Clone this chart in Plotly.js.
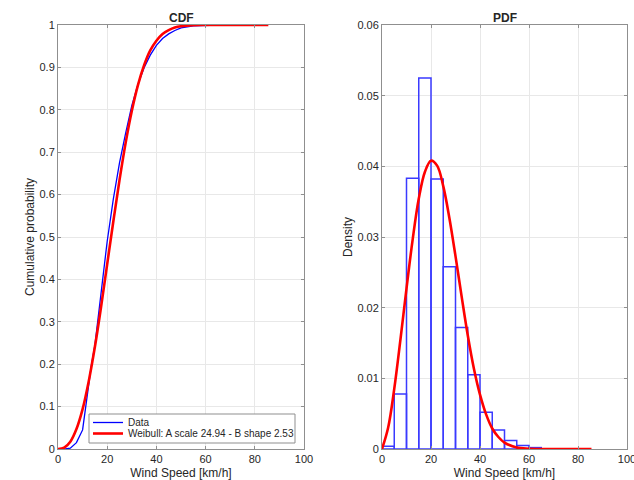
<!DOCTYPE html>
<html>
<head>
<meta charset="utf-8">
<script src="https://cdn.plot.ly/plotly-3.0.1.min.js"></script>
<style>html,body{margin:0;padding:0;background:#fff;}#chart{width:634px;height:480px;}</style>
</head>
<body>
<div id="chart"></div>
<script>
const dataX   = [0, 3, 5, 7.5, 10, 11, 12.5, 13.5, 15, 17.5, 20, 22.5, 25, 27.5, 30, 32.5, 35, 37.5, 40, 42.5, 45, 47.5, 50, 55, 60, 65, 85];
const dataCdf = [0, 0, 0.002, 0.015, 0.045, 0.09, 0.155, 0.195, 0.245, 0.37, 0.49, 0.59, 0.675, 0.745, 0.81, 0.86, 0.899, 0.929, 0.952, 0.968, 0.979, 0.987, 0.993, 0.998, 0.9995, 1, 1];

// Weibull fit curves
const fitX       = [0, 2.5, 5, 7.5, 10, 12.5, 15, 17.5, 20, 22.5, 25, 27.5, 30, 32.5, 35, 37.5, 40, 42.5, 45, 47.5, 50, 55, 60, 70, 85.5];
const weibullCdf = [0, 0.003, 0.017, 0.047, 0.094, 0.160, 0.241, 0.335, 0.436, 0.537, 0.634, 0.722, 0.797, 0.858, 0.905, 0.940, 0.963, 0.979, 0.988, 0.994, 0.997, 0.9994, 0.9999, 1, 1];
const weibullPdf = [0, 0.0030, 0.0085, 0.0154, 0.0227, 0.0296, 0.0354, 0.0392, 0.0408, 0.0401, 0.0372, 0.0327, 0.0273, 0.0216, 0.0161, 0.0114, 0.0077, 0.0049, 0.0029, 0.0017, 0.0009, 0.0002, 0.00004, 0, 0];

// Histogram (density), bin width 5 km/h
const binCenters = [2.5, 7.5, 12.5, 17.5, 22.5, 27.5, 32.5, 37.5, 42.5, 47.5, 52.5, 57.5, 62.5];
const density    = [0.0004, 0.0078, 0.0383, 0.0525, 0.0382, 0.0258, 0.0172, 0.0105, 0.0052, 0.0027, 0.0012, 0.0005, 0.0002];

const legendLabels = ['Data', 'Weibull: A scale 24.94 - B shape 2.53'];
const xTicks = [0, 20, 40, 60, 80, 100];
const cdfTicks = [0, 0.1, 0.2, 0.3, 0.4, 0.5, 0.6, 0.7, 0.8, 0.9, 1];
const cdfTickText = ['0', '0.1', '0.2', '0.3', '0.4', '0.5', '0.6', '0.7', '0.8', '0.9', '1'];
const pdfTicks = [0, 0.01, 0.02, 0.03, 0.04, 0.05, 0.06];
const pdfTickText = ['0', '0.01', '0.02', '0.03', '0.04', '0.05', '0.06'];

const W = 634, H = 480, MT = 25, MB = 31;
const PH = H - MT - MB;
const px = v => v / W;              // pixel -> paper x
const py = v => (H - MB - v) / PH;  // pixel -> paper y
const FONT = 'Liberation Sans, Arial, Helvetica, sans-serif';
const TXT = '#262626';
const AX = '#8f8f8f';
const GRID = '#e8e8e8';
const BLUE = '#0000ff', RED = '#ff0000';

const traces = [
  {x: dataX, y: dataCdf, type: 'scatter', mode: 'lines', name: legendLabels[0],
   line: {color: BLUE, width: 1.3}, xaxis: 'x', yaxis: 'y'},
  {x: fitX, y: weibullCdf, type: 'scatter', mode: 'lines', name: legendLabels[1],
   line: {color: RED, width: 2.6, shape: 'spline'}, xaxis: 'x', yaxis: 'y'},
  {x: binCenters, y: density, type: 'bar', width: 5, name: 'Histogram',
   marker: {color: 'rgba(255,255,255,0)', line: {color: '#3a3aff', width: 1.5}},
   xaxis: 'x2', yaxis: 'y2'},
  {x: fitX, y: weibullPdf, type: 'scatter', mode: 'lines', name: 'Weibull PDF',
   line: {color: RED, width: 2.6, shape: 'spline'}, xaxis: 'x2', yaxis: 'y2'}
];

function xax(domain, anchor) {
  return {
    domain: domain, anchor: anchor, range: [0, 100], tickvals: xTicks,
    ticks: 'inside', ticklen: 3, tickcolor: AX, showline: true, linecolor: AX, linewidth: 1,
    mirror: 'ticks', showgrid: true, gridcolor: GRID, zeroline: false,
    tickfont: {family: FONT, size: 11, color: TXT}, ticklabeloverflow: 'allow',
    title: {text: 'Wind Speed [km/h]', font: {family: FONT, size: 12, color: TXT}, standoff: 5},
    automargin: false, fixedrange: true
  };
}
function yax(anchor, range, vals, text, title) {
  return {
    domain: [0, 1], anchor: anchor, range: range, tickvals: vals, ticktext: text,
    ticks: 'inside', ticklen: 3, tickcolor: AX, showline: true, linecolor: AX, linewidth: 1,
    mirror: 'ticks', showgrid: true, gridcolor: GRID, zeroline: false,
    tickfont: {family: FONT, size: 11, color: TXT},
    title: {text: title, font: {family: FONT, size: 12, color: TXT}, standoff: 2},
    automargin: false, fixedrange: true
  };
}

// Legend box (drawn in pixel-derived paper coordinates)
const LG = {l: 89, r: 295, t: 414, b: 443, lx0: 93, lx1: 123, tx: 127, rows: [422.5, 433.5]};
const legendColors = [BLUE, RED];
const legendWidths = [1.3, 2.6];

const shapes = [
  {type: 'rect', xref: 'paper', yref: 'paper', x0: px(LG.l), x1: px(LG.r), y0: py(LG.b), y1: py(LG.t),
   line: {color: AX, width: 1}, fillcolor: '#fff', layer: 'above'}
];
const annotations = [
  {text: '<b>CDF</b>', xref: 'paper', yref: 'paper', x: px((58 + 304) / 2), y: 1,
   xanchor: 'center', yanchor: 'bottom', yshift: -2, showarrow: false,
   font: {family: FONT, size: 12, color: TXT}},
  {text: '<b>PDF</b>', xref: 'paper', yref: 'paper', x: px((382 + 627) / 2), y: 1,
   xanchor: 'center', yanchor: 'bottom', yshift: -2, showarrow: false,
   font: {family: FONT, size: 12, color: TXT}}
];
legendLabels.forEach((lab, i) => {
  shapes.push({type: 'line', xref: 'paper', yref: 'paper', x0: px(LG.lx0), x1: px(LG.lx1),
    y0: py(LG.rows[i]), y1: py(LG.rows[i]), line: {color: legendColors[i], width: legendWidths[i]}, layer: 'above'});
  annotations.push({text: lab, xref: 'paper', yref: 'paper', x: px(LG.tx), y: py(LG.rows[i]),
    xanchor: 'left', yanchor: 'middle', showarrow: false, borderpad: 0,
    font: {family: FONT, size: 10, color: TXT}});
});

const layout = {
  width: W, height: H,
  margin: {l: 0, r: 0, t: MT, b: MB},
  paper_bgcolor: '#fff', plot_bgcolor: '#fff',
  font: {family: FONT, color: TXT},
  showlegend: false,
  bargap: 0,
  xaxis: xax([px(58), px(304)], 'y'),
  xaxis2: xax([px(382), px(627)], 'y2'),
  yaxis: yax('x', [0, 1], cdfTicks, cdfTickText, 'Cumulative probability'),
  yaxis2: yax('x2', [0, 0.06], pdfTicks, pdfTickText, 'Density'),
  shapes: shapes,
  annotations: annotations
};

Plotly.newPlot('chart', traces, layout, {displayModeBar: false, staticPlot: true});
</script>
</body>
</html>
